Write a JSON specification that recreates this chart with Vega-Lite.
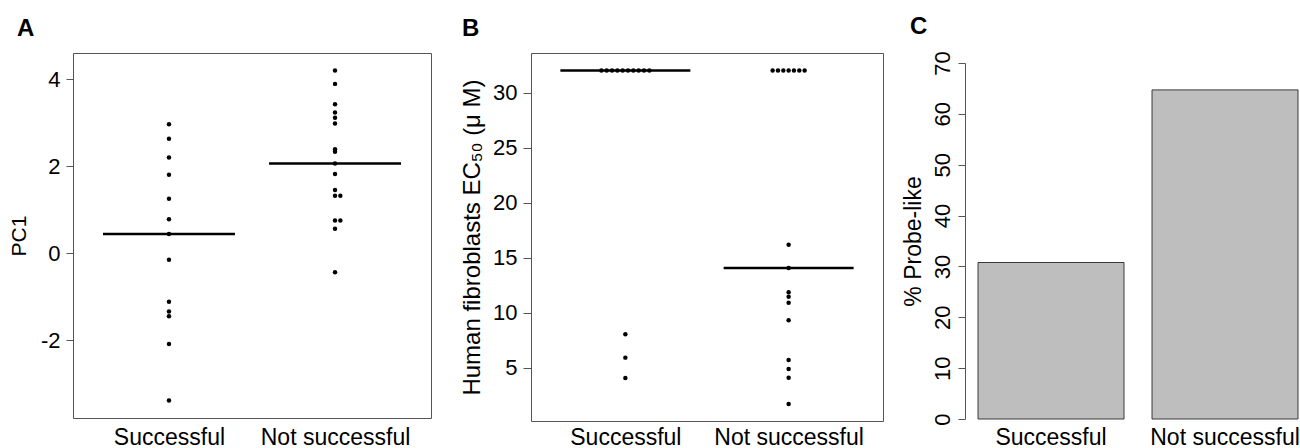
{
  "$schema": "https://vega.github.io/schema/vega-lite/v6.json",
  "padding": {"left": 7, "top": 14, "right": 0, "bottom": 0},
  "background": "white",
  "datasets": {
    "a": [
      {"group": "Successful", "value": 2.96},
      {"group": "Successful", "value": 2.63},
      {"group": "Successful", "value": 2.20},
      {"group": "Successful", "value": 1.80},
      {"group": "Successful", "value": 1.25},
      {"group": "Successful", "value": 0.78},
      {"group": "Successful", "value": 0.44},
      {"group": "Successful", "value": -0.15},
      {"group": "Successful", "value": -1.12},
      {"group": "Successful", "value": -1.34},
      {"group": "Successful", "value": -1.45},
      {"group": "Successful", "value": -2.09},
      {"group": "Successful", "value": -3.39},
      {"group": "Not successful", "value": 4.20},
      {"group": "Not successful", "value": 3.89},
      {"group": "Not successful", "value": 3.42},
      {"group": "Not successful", "value": 3.23},
      {"group": "Not successful", "value": 3.11},
      {"group": "Not successful", "value": 2.98},
      {"group": "Not successful", "value": 2.39},
      {"group": "Not successful", "value": 2.33},
      {"group": "Not successful", "value": 2.06},
      {"group": "Not successful", "value": 1.82},
      {"group": "Not successful", "value": 1.45},
      {"group": "Not successful", "value": 1.32},
      {"group": "Not successful", "value": 1.32},
      {"group": "Not successful", "value": 0.75},
      {"group": "Not successful", "value": 0.75},
      {"group": "Not successful", "value": 0.56},
      {"group": "Not successful", "value": -0.44}
    ],
    "b": [
      {"group": "Successful", "value": 32},
      {"group": "Successful", "value": 32},
      {"group": "Successful", "value": 32},
      {"group": "Successful", "value": 32},
      {"group": "Successful", "value": 32},
      {"group": "Successful", "value": 32},
      {"group": "Successful", "value": 32},
      {"group": "Successful", "value": 32},
      {"group": "Successful", "value": 32},
      {"group": "Successful", "value": 32},
      {"group": "Successful", "value": 8.03},
      {"group": "Successful", "value": 5.91},
      {"group": "Successful", "value": 4.06},
      {"group": "Not successful", "value": 32},
      {"group": "Not successful", "value": 32},
      {"group": "Not successful", "value": 32},
      {"group": "Not successful", "value": 32},
      {"group": "Not successful", "value": 32},
      {"group": "Not successful", "value": 32},
      {"group": "Not successful", "value": 32},
      {"group": "Not successful", "value": 16.18},
      {"group": "Not successful", "value": 14.06},
      {"group": "Not successful", "value": 11.85},
      {"group": "Not successful", "value": 11.45},
      {"group": "Not successful", "value": 10.9},
      {"group": "Not successful", "value": 9.3},
      {"group": "Not successful", "value": 5.70},
      {"group": "Not successful", "value": 4.88},
      {"group": "Not successful", "value": 4.09},
      {"group": "Not successful", "value": 1.70}
    ],
    "c": [
      {"group": "Successful", "pct": 30.77},
      {"group": "Not successful", "pct": 64.71}
    ]
  },
  "hconcat": [
    {
      "hconcat": [
        {
          "title": {"text": "A", "dx": -56, "offset": 12},
          "width": 358,
          "height": 365,
          "data": {"name": "a"},
          "transform": [
            {"window": [{"op": "count", "as": "unit"}], "frame": [0, 0]},
            {"stack": "unit", "groupby": ["group", "value"], "as": ["s0", "s1"], "offset": "zero"}
          ],
          "encoding": {
            "x": {"field": "group", "type": "nominal", "sort": ["Successful", "Not successful"],
              "scale": {"type": "point", "padding": 0.578},
              "axis": {"title": null, "labelAngle": 0, "ticks": false, "domain": false, "labelFontSize": 23, "labelPadding": 8}},
            "y": {"field": "value", "type": "quantitative",
              "scale": {"domain": [-3.79, 4.6], "nice": false, "zero": false},
              "axis": {"title": "PC1", "titleFontSize": 21, "values": [-2, 0, 2, 4], "labelExpr": "replace(datum.label, '−', '-')", "tickSize": 7, "labelPadding": 6, "domain": false, "titlePadding": 11}}
          },
          "layer": [
            {"mark": {"type": "circle", "size": 20, "color": "black", "opacity": 1},
              "encoding": {"xOffset": {"field": "s1", "type": "quantitative", "scale": {"domain": [-9, 11], "range": [-53.3, 53.3]}}}},
            {"transform": [{"aggregate": [{"op": "median", "field": "value", "as": "value"}], "groupby": ["group"]}],
              "mark": {"type": "tick", "color": "black", "opacity": 1, "thickness": 2.5, "size": 132}}
          ]
        },
        {
          "title": {"text": "B", "dx": -69, "offset": 12},
          "width": 352,
          "height": 368,
          "data": {"name": "b"},
          "transform": [
            {"window": [{"op": "count", "as": "unit"}], "frame": [0, 0]},
            {"stack": "unit", "groupby": ["group", "value"], "as": ["s0", "s1"], "offset": "center"}
          ],
          "encoding": {
            "x": {"field": "group", "type": "nominal", "sort": ["Successful", "Not successful"],
              "scale": {"type": "point", "padding": 0.578},
              "axis": {"title": null, "labelAngle": 0, "ticks": false, "domain": false, "labelFontSize": 23, "labelPadding": 5}},
            "y": {"field": "value", "type": "quantitative",
              "scale": {"domain": [0.15, 33.6], "nice": false, "zero": false},
              "axis": {"title": "Human fibroblasts EC₅₀ (μ M)", "titleFontSize": 24, "values": [5, 10, 15, 20, 25, 30], "tickSize": 8, "labelPadding": 6, "domain": false, "titlePadding": 8}}
          },
          "layer": [
            {"transform": [{"aggregate": [{"op": "median", "field": "value", "as": "value"}], "groupby": ["group"]}],
              "mark": {"type": "tick", "color": "black", "opacity": 1, "thickness": 2.5, "size": 130}},
            {"mark": {"type": "circle", "size": 20, "color": "black", "opacity": 1},
              "encoding": {"xOffset": {"field": "s1", "type": "quantitative", "scale": {"domain": [-4.5, 15.5], "range": [-53.3, 53.3]}}}}
          ]
        }
      ],
      "spacing": 28,
      "resolve": {"scale": {"x": "independent", "y": "independent", "xOffset": "independent"}}
    },
    {
      "title": {"text": "C", "dx": -55, "offset": 12},
      "width": 337,
      "height": 366,
      "view": {"stroke": null},
      "data": {"name": "c"},
      "mark": {"type": "bar", "color": "#BEBEBE", "stroke": "#3a3a3a", "strokeWidth": 1},
      "encoding": {
        "x": {"field": "group", "type": "nominal", "sort": ["Successful", "Not successful"],
          "scale": {"type": "band", "paddingInner": 0.161, "paddingOuter": 0.0489, "align": 0.765},
          "axis": {"title": null, "labelAngle": 0, "ticks": false, "domain": false, "labelFontSize": 23, "labelPadding": 7}},
        "y": {"field": "pct", "type": "quantitative",
          "scale": {"domain": [0, 70], "range": [366, 10], "nice": false},
          "axis": {"title": "% Probe-like", "titleFontSize": 23, "values": [0, 10, 20, 30, 40, 50, 60, 70], "labelAngle": -90, "labelAlign": "center", "labelBaseline": "bottom", "tickSize": 7, "labelPadding": 4, "domain": true, "titlePadding": 6}}
      }
    }
  ],
  "spacing": 18,
  "resolve": {"scale": {"x": "independent", "y": "independent", "xOffset": "independent"}},
  "config": {
    "font": "Liberation Sans",
    "view": {"stroke": "#555555", "strokeWidth": 1},
    "axis": {"grid": false, "labelFontSize": 22, "labelColor": "black", "titleFontWeight": "normal", "titleColor": "black", "tickColor": "#555555", "domainColor": "#555555", "labelFont": "Liberation Sans", "titleFont": "Liberation Sans"},
    "title": {"fontSize": 24, "fontWeight": "bold", "anchor": "start", "frame": "group", "color": "black", "font": "Liberation Sans"}
  }
}
